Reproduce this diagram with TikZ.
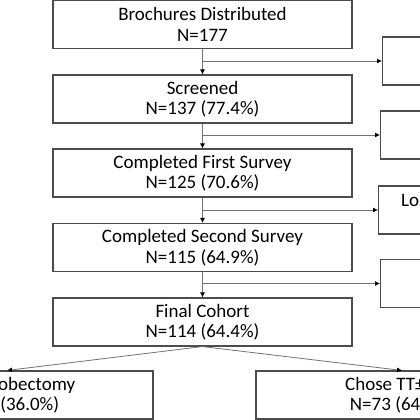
\documentclass[tikz,border=0pt]{standalone}
\usepackage{fontspec}
\setmainfont{Carlito}
\usetikzlibrary{arrows.meta}
\tikzset{
  mainbox/.style={draw=black!70, line width=1.1pt, minimum width=299pt, minimum height=48pt, align=center, inner sep=0pt, font=\fontsize{19}{20.5}\selectfont},
  sidebox/.style={draw=black!70, line width=1.1pt, minimum width=150pt, minimum height=48pt, anchor=west, inner sep=0pt},
  botbox/.style={draw=black!70, line width=1.1pt, minimum width=292pt, minimum height=48pt, align=center, inner sep=0pt, font=\fontsize{19}{20.5}\selectfont},
  conn/.style={draw=black!55, line width=0.8pt, -{Latex[length=5pt,width=5pt,color=black]}},
  sidetext/.style={anchor=west, inner sep=0pt, font=\fontsize{19}{20.5}\selectfont}
}
\begin{document}
\begin{tikzpicture}[x=1pt,y=-1pt]
\useasboundingbox (0,0) rectangle (420,420);
\clip (0,0) rectangle (420,420);
\node[mainbox] (b1) at (202.5,24.5) {Brochures Distributed\\N=177};
\node[mainbox] (b2) at (202.5,99) {Screened\\N=137 (77.4\%)};
\node[mainbox] (b3) at (202.5,173) {Completed First Survey\\N=125 (70.6\%)};
\node[mainbox] (b4) at (202.5,247.5) {Completed Second Survey\\N=115 (64.9\%)};
\node[mainbox] (b5) at (202.5,322) {Final Cohort\\N=114 (64.4\%)};
\node[sidebox] (s1) at (382,61) {};
\node[sidebox] (s2) at (380,135) {};
\node[sidebox] (s3) at (378,210) {};
\node[sidebox] (s4) at (380,283.5) {};
\node[sidetext] (t3) at (401,201) {Lost to follow-up};
\node[botbox] (l) at (7,395) {Chose Lobectomy\\N=41 (36.0\%)};
\node[botbox] (r) at (402,395) {Chose TT±CND\\N=73 (64.0\%)};
\draw[conn] (b1.south) -- (b2.north);
\draw[conn] (b2.south) -- (b3.north);
\draw[conn] (b3.south) -- (b4.north);
\draw[conn] (b4.south) -- (b5.north);
\coordinate (j1) at (b1.south |- s1.west);
\coordinate (j2) at (b2.south |- s2.west);
\coordinate (j3) at (b3.south |- s3.west);
\coordinate (j4) at (b4.south |- s4.west);
\draw[conn] (j1) -- (s1.west);
\draw[conn] (j2) -- (s2.west);
\draw[conn] (j3) -- (s3.west);
\draw[conn] (j4) -- (s4.west);
\draw[conn] (b5.south) -- (l.north);
\draw[conn] (b5.south) -- (r.north);
\end{tikzpicture}
\end{document}
